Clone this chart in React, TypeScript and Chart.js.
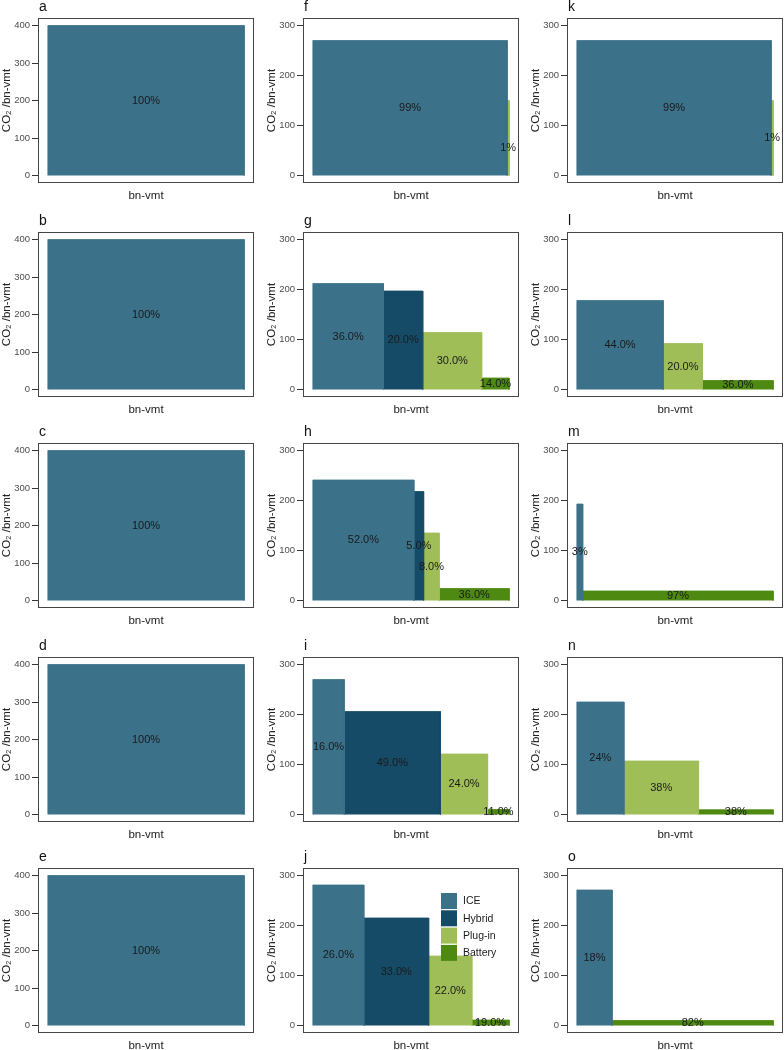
import React, { useEffect, useRef } from 'react';
import Chart from 'chart.js/auto';

const FONT = "Arial, 'Liberation Sans', Helvetica, sans-serif";

// Vehicle technology categories and their fill colours
const vehicleTypes = ['ICE', 'Hybrid', 'Plug-in', 'Battery'];
const typeColors = ['#3B7189', '#164B68', '#A0BE58', '#4E8A12'];

// Panels a..o (column-wise: a-e, f-j, k-o)
const panelLetters = ['a', 'b', 'c', 'd', 'e', 'f', 'g', 'h', 'i', 'j', 'k', 'l', 'm', 'n', 'o'];

const panelTypes: string[][] = [
  ['ICE'], ['ICE'], ['ICE'], ['ICE'], ['ICE'],
  ['ICE', 'Plug-in'],
  ['ICE', 'Hybrid', 'Plug-in', 'Battery'],
  ['ICE', 'Hybrid', 'Plug-in', 'Battery'],
  ['ICE', 'Hybrid', 'Plug-in', 'Battery'],
  ['ICE', 'Hybrid', 'Plug-in', 'Battery'],
  ['ICE', 'Plug-in'],
  ['ICE', 'Plug-in', 'Battery'],
  ['ICE', 'Battery'],
  ['ICE', 'Plug-in', 'Battery'],
  ['ICE', 'Battery'],
];

// share of bn-vmt (%) -> bar widths and labels
const panelShares: number[][] = [
  [100], [100], [100], [100], [100],
  [99, 1],
  [36, 20, 30, 14],
  [52, 5, 8, 36],
  [16, 49, 24, 11],
  [26, 33, 22, 19],
  [99, 1],
  [44, 20, 36],
  [3, 97],
  [24, 38, 38],
  [18, 82],
];

// CO2 per bn-vmt -> bar heights
const panelCO2: number[][] = [
  [400], [400], [400], [400], [400],
  [270, 150],
  [212, 197, 114, 23],
  [241, 218, 135, 24],
  [270, 206, 121, 10],
  [281, 215, 139, 11],
  [270, 150],
  [178, 92, 18],
  [193, 19],
  [225, 107, 9.5],
  [271, 10],
];

// label value positions (null = middle of bar)
const panelLabelY: (number | null)[][] = [
  [null], [null], [null], [null], [null],
  [null, 55],
  [null, null, null, null],
  [null, null, null, null],
  [null, null, null, null],
  [null, null, null, null],
  [null, null],
  [null, null, null],
  [null, null],
  [null, null, null],
  [null, null],
];

const panelDecimals = [0, 0, 0, 0, 0, 0, 1, 1, 1, 1, 0, 1, 0, 0, 0];
const panelYMax = [400, 400, 400, 400, 400, 300, 300, 300, 300, 300, 300, 300, 300, 300, 300];
const yTicksCol1 = [0, 100, 200, 300, 400];
const yTicksOther = [0, 100, 200, 300];
const legendPanel = 'j';

// layout
const colLefts = [0, 265, 529];
const rowTops = [0, 214, 425, 639, 850];
const CW = 255;
const CH = 213;

function Panel({ idx }: { idx: number }) {
  const ref = useRef<HTMLCanvasElement>(null);
  const col = Math.floor(idx / 5);
  const row = idx % 5;

  useEffect(() => {
    const canvas = ref.current;
    if (!canvas) return;
    const types = panelTypes[idx];
    const shares = panelShares[idx];
    const co2 = panelCO2[idx];
    const labY = panelLabelY[idx];
    const dec = panelDecimals[idx];
    const total = shares.reduce((a, b) => a + b, 0);
    let cum = 0;
    const bars = shares.map((s, i) => {
      const x0 = (cum / total) * 100;
      cum += s;
      const x1 = (cum / total) * 100;
      return {
        x0,
        x1,
        h: co2[i],
        type: types[i],
        label: dec ? s.toFixed(1) + '%' : s + '%',
        ly: labY[i] == null ? co2[i] / 2 : (labY[i] as number),
      };
    });
    const yMax = panelYMax[idx];
    const pad = yMax * 0.05;
    const yTicks = yMax === 400 ? yTicksCol1 : yTicksOther;
    const letter = panelLetters[idx];

    const decor = {
      id: 'decor',
      afterDatasetsDraw(chart: any) {
        const ctx = chart.ctx;
        const xs = chart.scales.x;
        const ys = chart.scales.y;
        ctx.save();
        ctx.fillStyle = '#1a1a1a';
        ctx.font = `11px ${FONT}`;
        ctx.textAlign = 'center';
        ctx.textBaseline = 'middle';
        bars.forEach((b) => {
          ctx.fillText(b.label, xs.getPixelForValue((b.x0 + b.x1) / 2), ys.getPixelForValue(b.ly));
        });
        ctx.restore();
      },
      afterDraw(chart: any) {
        const ctx = chart.ctx;
        const a = chart.chartArea;
        ctx.save();
        ctx.strokeStyle = '#454545';
        ctx.lineWidth = 1;
        ctx.strokeRect(a.left + 0.5, a.top + 0.5, a.right - a.left - 1, a.bottom - a.top - 1);
        ctx.fillStyle = '#111';
        ctx.font = `14px ${FONT}`;
        ctx.textAlign = 'left';
        ctx.textBaseline = 'alphabetic';
        ctx.fillText(letter, a.left + 1, a.top - 7);
        if (letter === legendPanel) {
          const lx = a.left + 138;
          const ly = a.top + 25;
          const pitch = 17.3;
          ctx.font = `10.5px ${FONT}`;
          ctx.textBaseline = 'middle';
          vehicleTypes.forEach((t, i) => {
            ctx.fillStyle = typeColors[i];
            ctx.fillRect(lx, ly + i * pitch, 16, 16);
            ctx.fillStyle = '#1a1a1a';
            ctx.fillText(t, lx + 22, ly + i * pitch + 8.5);
          });
        }
        ctx.restore();
      },
    };

    const chart = new Chart(canvas, {
      type: 'line',
      data: {
        datasets: bars.map((b) => {
          const c = typeColors[vehicleTypes.indexOf(b.type)];
          return {
            label: b.type,
            data: [
              { x: b.x0, y: 0 },
              { x: b.x0, y: b.h },
              { x: b.x1, y: b.h },
              { x: b.x1, y: 0 },
            ],
            fill: 'origin',
            backgroundColor: c,
            borderColor: c,
            borderWidth: 0.8,
            pointRadius: 0,
            pointHoverRadius: 0,
            tension: 0,
          };
        }),
      },
      options: {
        responsive: false,
        animation: false,
        devicePixelRatio: 1,
        events: [],
        layout: { padding: { top: 18, right: 1, bottom: 10, left: 0 } },
        plugins: {
          legend: { display: false },
          tooltip: { enabled: false },
          title: { display: false },
        },
        scales: {
          x: {
            type: 'linear',
            min: -5,
            max: 105,
            ticks: { display: false },
            grid: { display: false },
            border: { display: false },
            title: {
              display: true,
              text: 'bn-vmt',
              color: '#222',
              font: { family: FONT, size: 11.5 },
              padding: { top: 0, bottom: 0 },
            },
            afterFit: (s: any) => {
              s.height = 20;
            },
          },
          y: {
            type: 'linear',
            min: -pad,
            max: yMax + pad,
            afterBuildTicks: (s: any) => {
              s.ticks = yTicks.map((v) => ({ value: v }));
            },
            ticks: {
              color: '#4d4d4d',
              font: { family: FONT, size: 9.5 },
              padding: 2,
            },
            grid: {
              drawOnChartArea: false,
              drawTicks: true,
              tickLength: 6,
              color: '#333',
              lineWidth: 1,
            },
            border: { display: false },
            title: {
              display: true,
              text: 'CO₂ /bn-vmt',
              color: '#222',
              font: { family: FONT, size: 11.5 },
              padding: { top: 0, bottom: 0 },
            },
            afterFit: (s: any) => {
              s.width = 38;
            },
          },
        },
      } as any,
      plugins: [decor],
    });
    return () => chart.destroy();
  }, [idx]);

  return (
    <canvas
      ref={ref}
      width={CW}
      height={CH}
      style={{ position: 'absolute', left: colLefts[col], top: rowTops[row], width: CW, height: CH }}
    />
  );
}

export default function App() {
  return (
    <div
      style={{
        position: 'absolute',
        left: 0,
        top: 0,
        width: 784,
        height: 1050,
        overflow: 'hidden',
        background: '#fff',
      }}
    >
      {panelLetters.map((_, i) => (
        <Panel key={i} idx={i} />
      ))}
    </div>
  );
}
